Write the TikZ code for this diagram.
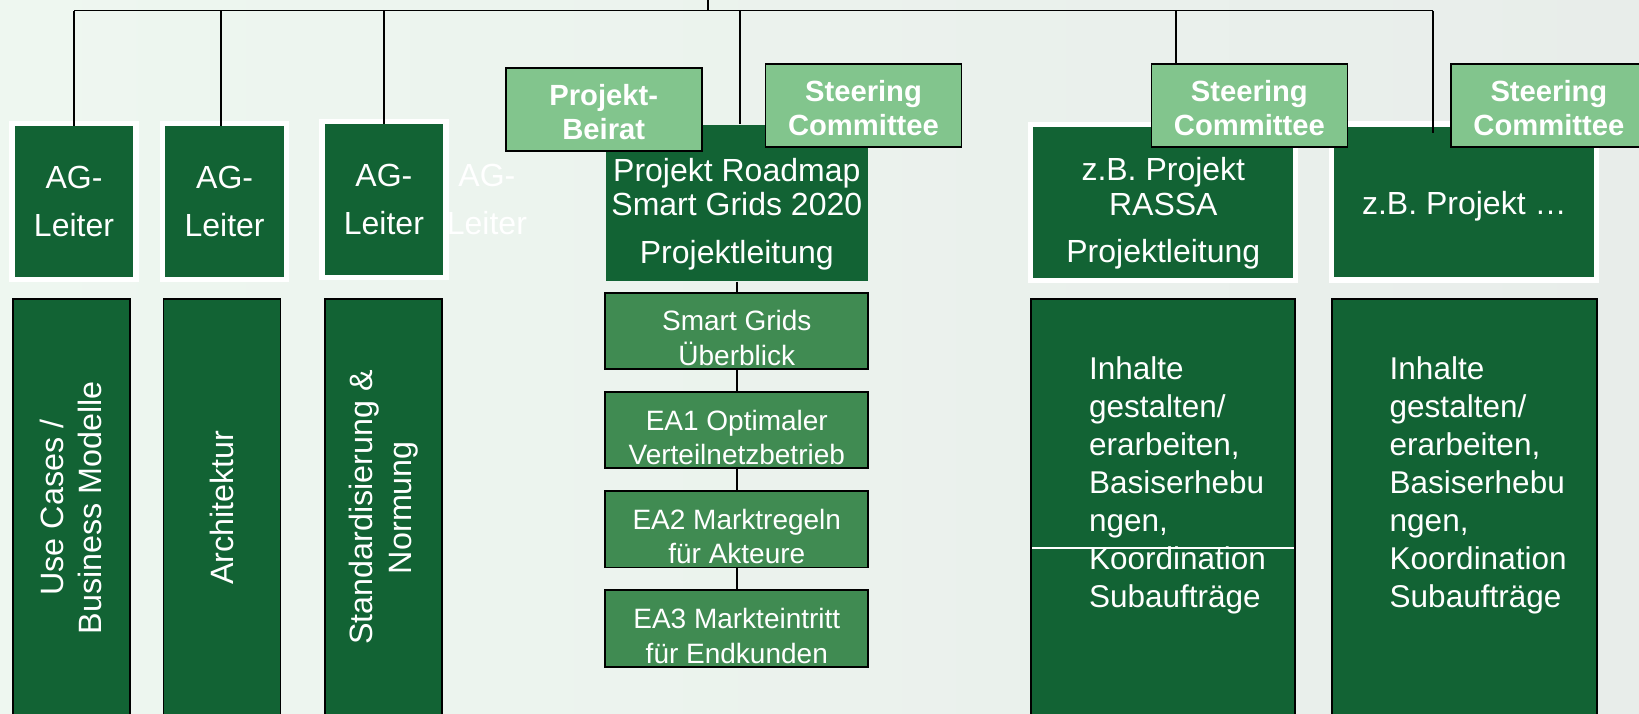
\documentclass[tikz,border=0pt]{standalone}
\usepackage{fontspec}
\setmainfont{Liberation Sans}
\usetikzlibrary{positioning}

\definecolor{darkgreen}{RGB}{18,99,52}
\definecolor{midgreen}{RGB}{64,139,82}
\definecolor{lightgreen}{RGB}{130,197,141}
\definecolor{bgleft}{RGB}{238,247,240}
\definecolor{bgmid}{RGB}{242,248,244}
\definecolor{bgright}{RGB}{232,237,234}

% strut that pushes the first text line down
\newcommand{\lift}[1]{\rule{0pt}{#1}}

\begin{document}
\begin{tikzpicture}[x=1pt,y=-1pt,line width=1.4pt,node distance=21pt,
  ag text/.style={text=white,align=center,font=\fontsize{32}{48}\selectfont},
  ag box/.style={ag text,rectangle,fill=darkgreen,draw=white,line width=5.2pt,
    minimum width=124pt,minimum height=156pt},
  column/.style={rectangle,fill=darkgreen,draw=black,line width=1.8pt,minimum height=417pt},
  column text/.style={text=white,align=center,rotate=90,font=\fontsize{32.3}{38.5}\selectfont},
  head box/.style={rectangle,fill=darkgreen,minimum height=156pt,text=white,align=center,
    font=\fontsize{32}{34.5}\selectfont},
  white frame/.style={draw=white,line width=5.2pt},
  work box/.style={rectangle,fill=midgreen,draw=black,line width=1.8pt,minimum width=263pt,
    minimum height=74pt,text=white,align=center,font=\fontsize{28}{34.5}\selectfont},
  board box/.style={rectangle,fill=lightgreen,draw=black,line width=1.8pt,minimum width=196pt,
    minimum height=83pt,text=white,align=center,font=\bfseries\fontsize{29.2}{34}\selectfont},
  task text/.style={anchor=north west,inner sep=0pt,text=white,align=left,
    font=\fontsize{31.5}{38}\selectfont}]

  \useasboundingbox (0,0) rectangle (1639,713);
  \fill[left color=bgleft,middle color=bgmid,right color=bgright] (0,0) rectangle (1639,713);

  % working groups
  \node[column,minimum width=117pt] (col1) at (71.2,507.6) {};
  \node[column,minimum width=117pt] (col2) at (221.9,507.6) {};
  \node[column,minimum width=117pt] (col3) at (383.8,507.6) {};
  \node[column text] (col1 text) at (col1) {Use Cases /\\Business Modelle};
  \node[column text] (col2 text) at (col2) {Architektur};
  \node[column text] (col3 text) at (col3) {Standardisierung \&\\Normung};

  \node[ag box] (ag1) at (74,201.2) {AG-\\Leiter};
  \node[ag box] (ag2) at (224.6,201.2) {AG-\\Leiter};
  \node[ag box] (ag3) at (383.9,199.8) {AG-\\Leiter};
  \node[ag text] (ag4) at ([xshift=103pt]ag3.center) {AG-\\Leiter};

  % roadmap project
  \node[head box,minimum width=262pt] (road) at (736.8,203)
    {\lift{45pt}Projekt Roadmap\\Smart Grids 2020\\[13pt]Projektleitung};
  \node[work box,below=10pt of road] (sg) {\lift{35pt}Smart Grids\\Überblick};
  \node[work box,below=of sg] (ea1) {\lift{35pt}EA1 Optimaler\\Verteilnetzbetrieb};
  \node[work box,below=of ea1] (ea2) {\lift{35pt}EA2 Marktregeln\\für Akteure};
  \node[work box,below=of ea2] (ea3) {\lift{35pt}EA3 Markteintritt\\für Endkunden};

  % other projects
  \node[column,minimum width=264pt] (colR) at (1163.2,507.6) {};
  \node[column,minimum width=265pt] (colZ) at (1464.4,507.6) {};
  \node[head box,white frame,minimum width=265pt] (rassa) at (1163.3,202.4)
    {\lift{45pt}z.B. Projekt\\RASSA\\[13pt]Projektleitung};
  \node[head box,white frame,minimum width=265pt] (zb) at (1464.3,202) {\lift{31pt}z.B. Projekt …};

  \node[task text] (colR text) at ([xshift=58pt,yshift=-58pt]colR.north west)
    {Inhalte\\gestalten/\\erarbeiten,\\Basiserhebu\\ngen,\\Koordination\\Subaufträge};
  \node[task text] (colZ text) at ([xshift=58pt,yshift=-58pt]colZ.north west)
    {Inhalte\\gestalten/\\erarbeiten,\\Basiserhebu\\ngen,\\Koordination\\Subaufträge};
  \draw[white,line width=1.2pt,shorten <=1.8pt,shorten >=1.8pt]
    (colR.west |- 0,548) -- (colR.east |- 0,548);

  % boards
  \node[board box] (beirat) at (603.7,109.3) {\lift{27pt}Projekt-\\Beirat};
  \node[board box] (sc1) at (863.5,105.2) {\lift{27pt}Steering\\Committee};
  \node[board box] (sc2) at (1249.4,105.2) {\lift{27pt}Steering\\Committee};
  \node[board box] (sc3) at (1548.9,105.2) {\lift{27pt}Steering\\Committee};

  % connectors
  \coordinate (top) at (708,0);
  \coordinate (bus west) at (74,10.7);
  \coordinate (bus east) at (1433,10.7);
  \coordinate (tap ag2) at (221,10.7);
  \coordinate (tap road) at (740,10.7);
  \coordinate (tap sc2) at (1176,10.7);

  \draw (top) -- (top |- bus west);
  \draw (bus west) -- (bus east);
  \draw[shorten >=-5.2pt] (ag1.north |- bus west) -- (ag1.north);
  \draw[shorten >=-5.2pt] (tap ag2) -- (tap ag2 |- ag2.north);
  \draw[shorten >=-5.2pt] (ag3.north |- bus west) -- (ag3.north);
  \draw (tap road) -- (tap road |- road.north);
  \draw (tap sc2) -- (tap sc2 |- sc2.north);
  \draw[shorten >=-12pt] (bus east) -- (bus east |- zb.north);

  \path (road) edge (sg)
        (sg) edge (ea1)
        (ea1) edge (ea2)
        (ea2) edge (ea3);
\end{tikzpicture}
\end{document}
